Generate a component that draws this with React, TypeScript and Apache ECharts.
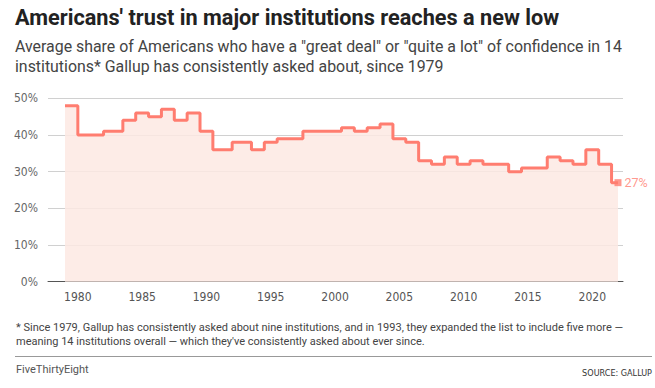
import React, { useEffect, useRef } from "react";
import * as echarts from "echarts";

const years = [1979, 1981, 1983, 1984, 1985, 1986, 1987, 1988, 1989, 1990, 1991, 1993, 1994, 1995, 1996, 1997, 1998, 1999, 2000, 2001, 2002, 2003, 2004, 2005, 2006, 2007, 2008, 2009, 2010, 2011, 2012, 2013, 2014, 2015, 2016, 2017, 2018, 2019, 2020, 2021, 2022];
const shares = [48, 40, 41, 44, 46, 45, 47, 44, 46, 41, 36, 38, 36, 38, 39, 39, 41, 41, 41, 42, 41, 42, 43, 39, 38, 33, 32, 34, 32, 33, 32, 32, 30, 31, 31, 34, 33, 32, 36, 32, 27];
const xTickLabels = [1980, 1985, 1990, 1995, 2000, 2005, 2010, 2015, 2020];
const yTicks = [0, 10, 20, 30, 40, 50];

const titleText = "Americans' trust in major institutions reaches a new low";
const subtitleLines = [
  'Average share of Americans who have a "great deal" or "quite a lot" of confidence in 14',
  "institutions* Gallup has consistently asked about, since 1979",
];
const footnoteLines = [
  "* Since 1979, Gallup has consistently asked about nine institutions, and in 1993, they expanded the list to include five more \u2014",
  "meaning 14 institutions overall \u2014 which they've consistently asked about ever since.",
];

const LINE = "#ff7d70";
const FILL = "#fde9e3";
const NARROW = '"Liberation Sans Narrow", "DejaVu Sans Condensed", "Roboto", sans-serif';

export default function App() {
  const ref = useRef<HTMLDivElement>(null);
  useEffect(() => {
    if (!ref.current) return;
    const chart = echarts.init(ref.current, null, { renderer: "svg" });
    const data = years.map((y, i) => [y, shares[i]]);
    const last = data[data.length - 1];
    chart.setOption({
      animation: false,
      backgroundColor: "#ffffff",
      grid: { left: 48, right: 32, top: 98.3, bottom: 106.3, containLabel: false },
      xAxis: {
        type: "value",
        min: 1977.68,
        max: 2022.39,
        splitLine: { show: false },
        axisTick: { show: false },
        axisLine: { show: true, onZero: false, lineStyle: { color: "#555", width: 1 } },
        axisLabel: {
          customValues: xTickLabels,
          color: "#555",
          fontSize: 12,
          fontFamily: NARROW,
          margin: 9,
          formatter: (v: number) => String(v),
        },
      },
      yAxis: {
        type: "value",
        min: 0,
        max: 50,
        interval: 10,
        axisLine: { show: false },
        axisTick: { show: false },
        splitLine: { show: true, lineStyle: { color: "#d0d0d0", width: 1 } },
        axisLabel: {
          color: "#666",
          fontSize: 12,
          fontFamily: NARROW,
          margin: 10,
          formatter: (v: number) => (yTicks.includes(v) ? v + "%" : ""),
        },
      },
      series: [
        {
          type: "line",
          step: "middle",
          data,
          symbol: "none",
          lineStyle: { color: LINE, width: 3 },
          areaStyle: { color: FILL, opacity: 0.85 },
          z: 3,
        },
        {
          type: "scatter",
          data: [last],
          symbol: "rect",
          symbolSize: 7,
          itemStyle: { color: LINE },
          z: 4,
          label: {
            show: true,
            position: "right",
            distance: 3,
            color: LINE,
            fontSize: 12.5,
            fontFamily: '"Roboto", sans-serif',
            formatter: (p: any) => p.value[1] + "%",
          },
        },
      ],
      graphic: [
        {
          type: "text",
          left: 15,
          top: 6,
          style: {
            text: titleText,
            fontSize: 21.7,
            fontWeight: "bold",
            fontFamily: '"Roboto", sans-serif',
            fill: "#222",
          },
        },
        {
          type: "text",
          left: 15,
          top: 36,
          style: {
            text: subtitleLines.join("\n"),
            fontSize: 15.9,
            lineHeight: 20,
            fontFamily: '"Roboto", sans-serif',
            fill: "#444",
          },
        },
        {
          type: "text",
          left: 16,
          top: 320,
          style: {
            text: footnoteLines.join("\n"),
            fontSize: 11,
            lineHeight: 14.5,
            fontFamily: '"Roboto", sans-serif',
            fill: "#444",
          },
        },
        {
          type: "line",
          shape: { x1: 15, y1: 356.5, x2: 652, y2: 356.5 },
          style: { stroke: "#999", lineWidth: 1 },
        },
        {
          type: "text",
          left: 16,
          top: 364,
          style: {
            text: "FiveThirtyEight",
            fontSize: 11,
            fontFamily: '"Roboto", sans-serif',
            fill: "#555",
          },
        },
        {
          type: "text",
          right: 3,
          top: 368,
          style: {
            text: "SOURCE: GALLUP",
            fontSize: 9,
            fontFamily: NARROW,
            fill: "#333",
          },
        },
      ],
    });
    return () => chart.dispose();
  }, []);
  return <div ref={ref} style={{ width: 655, height: 388, position: "absolute", left: 0, top: 0 }} />;
}
